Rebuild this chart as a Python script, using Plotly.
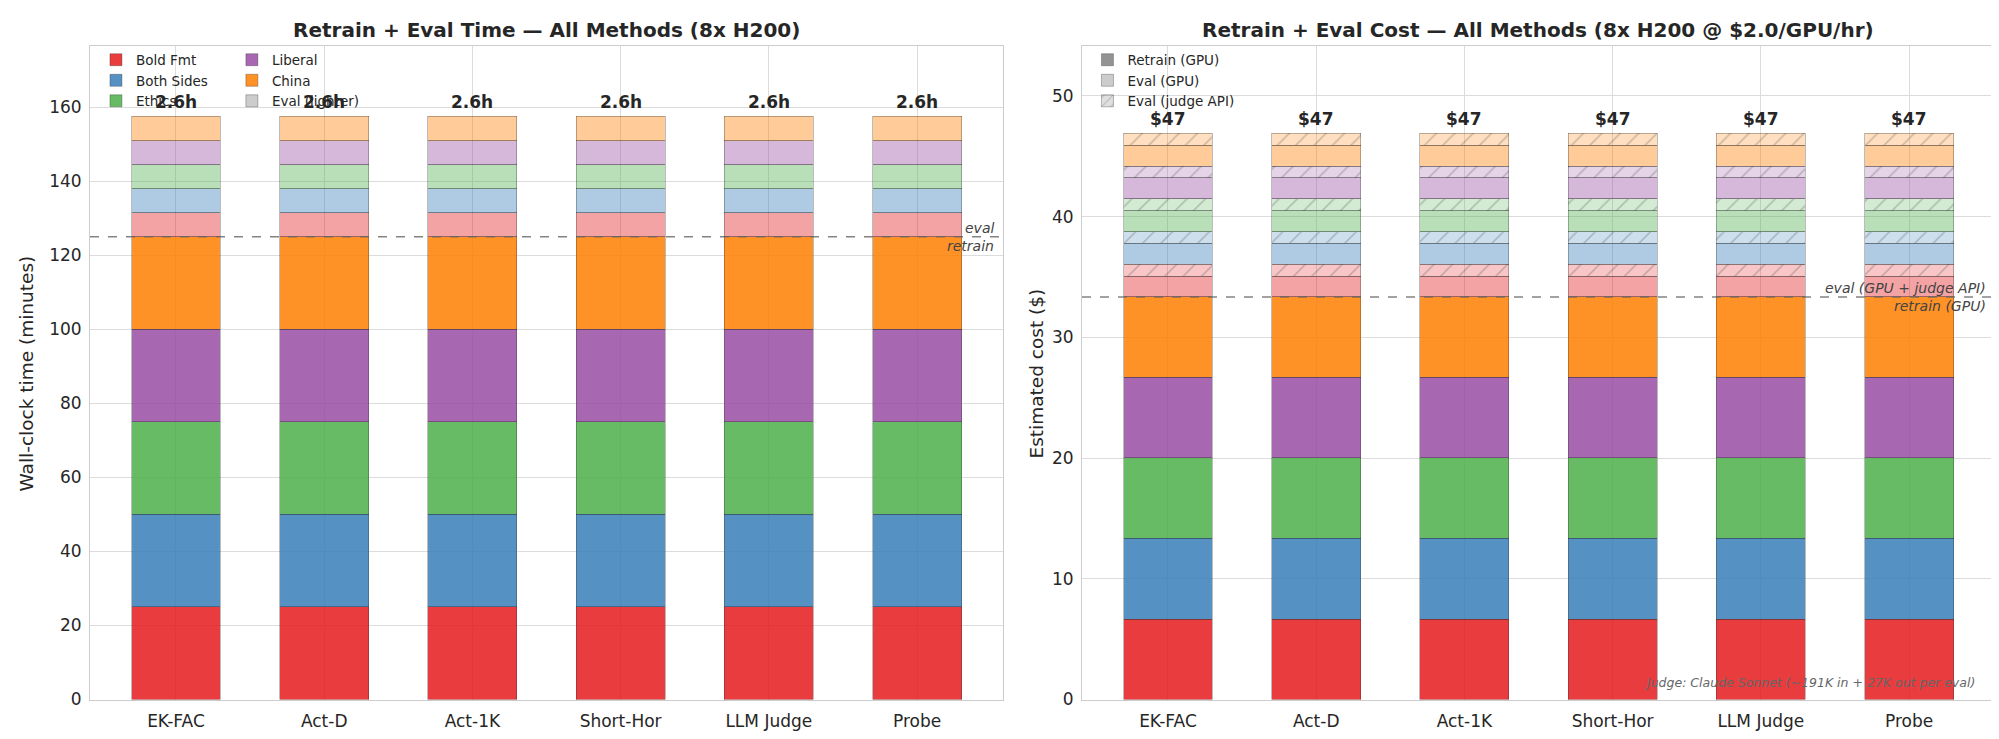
import plotly.graph_objects as go
from plotly.subplots import make_subplots

# Données
methods = ["EK-FAC", "Act-D", "Act-1K", "Short-Hor", "LLM Judge", "Probe"]
sections = ["Bold Fmt", "Both Sides", "Ethics", "Liberal", "China"]
section_rgb = ["228,26,28", "55,126,184", "77,175,74", "152,78,163", "255,127,0"]

# minutes par section (identiques pour chaque méthode)
retrain_min = [25.0, 25.0, 25.0, 25.0, 25.0]
eval_min = [6.5, 6.5, 6.5, 6.5, 6.5]

# coût en $ par section (8x H200 @ $2.0/GPU/hr)
retrain_cost = [6.67, 6.67, 6.67, 6.67, 6.67]
eval_gpu_cost = [1.73, 1.73, 1.73, 1.73, 1.73]
judge_cost = [0.98, 0.98, 0.98, 0.98, 0.98]

TXT = "#262626"
GRID = "#dcdcdc"
FONT = "DejaVu Sans"
EDGE = dict(color="rgba(40,40,40,0.45)", width=0.7)
HATCH_FG = "rgba(70,70,70,0.55)"

fig = make_subplots(rows=1, cols=2)

n = len(methods)

# --- Panneau gauche : temps
for s, rgb, v in zip(sections, section_rgb, retrain_min):
    fig.add_trace(go.Bar(x=methods, y=[v] * n, width=0.6, marker=dict(color=f"rgba({rgb},0.85)", line=EDGE),
                         showlegend=False, hoverinfo="skip"), row=1, col=1)
for s, rgb, v in zip(sections, section_rgb, eval_min):
    fig.add_trace(go.Bar(x=methods, y=[v] * n, width=0.6, marker=dict(color=f"rgba({rgb},0.4)", line=EDGE),
                         showlegend=False, hoverinfo="skip"), row=1, col=1)

# --- Panneau droit : coût
for s, rgb, v in zip(sections, section_rgb, retrain_cost):
    fig.add_trace(go.Bar(x=methods, y=[v] * n, width=0.6, marker=dict(color=f"rgba({rgb},0.85)", line=EDGE),
                         showlegend=False, hoverinfo="skip"), row=1, col=2)
for s, rgb, vg, vj in zip(sections, section_rgb, eval_gpu_cost, judge_cost):
    fig.add_trace(go.Bar(x=methods, y=[vg] * n, width=0.6, marker=dict(color=f"rgba({rgb},0.4)", line=EDGE),
                         showlegend=False, hoverinfo="skip"), row=1, col=2)
    fig.add_trace(go.Bar(x=methods, y=[vj] * n, width=0.6,
                         marker=dict(color=f"rgba({rgb},0.25)", line=EDGE,
                                     pattern=dict(shape="/", fgcolor=HATCH_FG, bgcolor=f"rgba({rgb},0.25)",
                                                  size=13, solidity=0.12)),
                         showlegend=False, hoverinfo="skip"), row=1, col=2)

# Légendes (entrées factices)
leg_items = [("Bold Fmt", "rgba(228,26,28,0.85)", "legend", None),
             ("Both Sides", "rgba(55,126,184,0.85)", "legend", None),
             ("Ethics", "rgba(77,175,74,0.85)", "legend", None),
             ("Liberal", "rgba(152,78,163,0.85)", "legend2", None),
             ("China", "rgba(255,127,0,0.85)", "legend2", None),
             ("Eval (lighter)", "rgba(128,128,128,0.4)", "legend2", None),
             ("Retrain (GPU)", "rgba(128,128,128,0.85)", "legend3", None),
             ("Eval (GPU)", "rgba(128,128,128,0.4)", "legend3", None),
             ("Eval (judge API)", "rgba(128,128,128,0.25)", "legend3", "/")]
for name, col, leg, hatch in leg_items:
    mk = dict(color=col, line=EDGE)
    if hatch:
        mk["pattern"] = dict(shape=hatch, fgcolor=HATCH_FG, bgcolor=col, size=8, solidity=0.15)
    fig.add_trace(go.Bar(x=[methods[0]], y=[None], name=name, marker=mk, legend=leg,
                         showlegend=True, hoverinfo="skip"), row=1, col=2 if leg == "legend3" else 1)

# Totaux au-dessus des barres
tot_min = sum(retrain_min) + sum(eval_min)
tot_cost = sum(retrain_cost) + sum(eval_gpu_cost) + sum(judge_cost)
for m in methods:
    fig.add_annotation(x=m, y=tot_min, xref="x", yref="y", text=f"<b>{tot_min / 60:.1f}h</b>",
                       showarrow=False, yanchor="bottom", yshift=2, font=dict(size=17, color=TXT))
    fig.add_annotation(x=m, y=tot_cost, xref="x2", yref="y2", text=f"<b>${tot_cost:.0f}</b>",
                       showarrow=False, yanchor="bottom", yshift=2, font=dict(size=17, color=TXT))

# Séparation retrain / eval
split_min = sum(retrain_min)
split_cost = sum(retrain_cost)
fig.add_hline(y=split_min, row=1, col=1, line=dict(color="rgba(100,100,100,0.8)", dash="dash", width=1.5))
fig.add_hline(y=split_cost, row=1, col=2, line=dict(color="rgba(100,100,100,0.8)", dash="dash", width=1.5))
for xr, yr, yv, top, bot in [("x domain", "y", split_min, "eval", "retrain"),
                             ("x2 domain", "y2", split_cost, "eval (GPU + judge API)", "retrain (GPU)")]:
    fig.add_annotation(x=0.992, y=yv, xref=xr, yref=yr, text=f"<i>{top}</i>", showarrow=False,
                       xanchor="right", yanchor="bottom", yshift=-1, font=dict(size=14, color="#444444"))
    fig.add_annotation(x=0.992, y=yv, xref=xr, yref=yr, text=f"<i>{bot}</i>", showarrow=False,
                       xanchor="right", yanchor="top", yshift=1, font=dict(size=14, color="#444444"))

fig.add_annotation(x=0.98, y=0.012, xref="x2 domain", yref="y2 domain",
                   text="<i>Judge: Claude Sonnet (~191K in + 27K out per eval)</i>",
                   showarrow=False, xanchor="right", yanchor="bottom", font=dict(size=12.5, color="#666666"))

# Titres
fig.add_annotation(x=0.2694, y=0.970, xref="paper", yref="paper", xanchor="center", yanchor="middle",
                   text="<b>Retrain + Eval Time — All Methods (8x H200)</b>",
                   showarrow=False, font=dict(size=20, color=TXT))
fig.add_annotation(x=0.7656, y=0.970, xref="paper", yref="paper", xanchor="center", yanchor="middle",
                   text="<b>Retrain + Eval Cost — All Methods (8x H200 @ $2.0/GPU/hr)</b>",
                   showarrow=False, font=dict(size=20, color=TXT))
fig.add_annotation(x=19 / 1999, y=0.4986, xref="paper", yref="paper", xanchor="center", yanchor="middle",
                   text="Wall-clock time (minutes)",
                   textangle=-90, showarrow=False, font=dict(size=18.5, color=TXT))
fig.add_annotation(x=1029 / 1999, y=0.4986, xref="paper", yref="paper", xanchor="center", yanchor="middle",
                   text="Estimated cost ($)",
                   textangle=-90, showarrow=False, font=dict(size=18.5, color=TXT))

ax_common = dict(showline=True, linecolor="#cccccc", linewidth=1, mirror=True, showgrid=True,
                 gridcolor=GRID, gridwidth=1, zeroline=False, ticks="",
                 tickfont=dict(size=17, color=TXT))
fig.update_xaxes(**ax_common, type="category", range=[-0.58, 5.58], ticklabelstandoff=6)
fig.update_yaxes(**ax_common, ticklabelstandoff=4)
fig.update_xaxes(domain=[82 / 1999, 995 / 1999], row=1, col=1)
fig.update_xaxes(domain=[1074 / 1999, 1987 / 1999], row=1, col=2)
fig.update_yaxes(domain=[1 - 701 / 739, 1 - 39 / 739], range=[0, 176.4], dtick=20, row=1, col=1)
fig.update_yaxes(domain=[1 - 701 / 739, 1 - 39 / 739], range=[0, 54.1], dtick=10, row=1, col=2)

leg_common = dict(bgcolor="rgba(0,0,0,0)", font=dict(size=13.5, color=TXT, family=FONT),
                  yanchor="top", xanchor="left", tracegroupgap=0, itemwidth=30, traceorder="normal")
fig.update_layout(
    barmode="stack",
    width=1999, height=739,
    margin=dict(l=0, r=0, t=0, b=0),
    plot_bgcolor="white", paper_bgcolor="white",
    font=dict(family=FONT, color=TXT),
    legend=dict(**leg_common, x=0.044, y=0.950),
    legend2=dict(**leg_common, x=0.112, y=0.950),
    legend3=dict(**leg_common, x=0.540, y=0.950),
)

fig.write_html("out.html")
